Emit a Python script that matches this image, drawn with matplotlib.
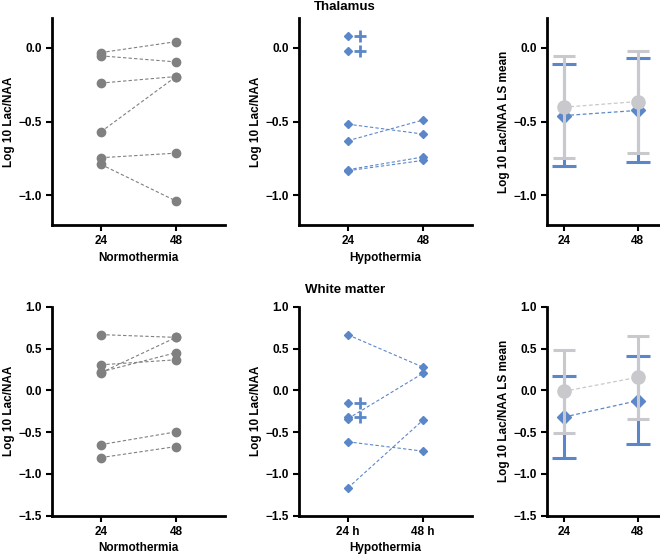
import matplotlib.pyplot as plt

plt.rcParams['font.family'] = ['Liberation Sans', 'DejaVu Sans']
plt.rcParams['font.weight'] = 'bold'
plt.rcParams['axes.labelweight'] = 'bold'

GREY = '#808080'
LIGHT = '#c9c9cd'
BLUE = '#5b87c9'

# time points (categorical positions 0, 1)
times = ['24', '48']
times_h = ['24 h', '48 h']

# Thalamus, normothermia: (24 h, 48 h) per subject
thal_norm_24 = [-0.034, -0.056, -0.24, -0.57, -0.745, -0.79]
thal_norm_48 = [0.04, -0.097, -0.196, -0.196, -0.714, -1.038]

# Thalamus, hypothermia: paired subjects, then subjects only at 24 h (died)
thal_hypo_24 = [-0.518, -0.63, -0.826, -0.833]
thal_hypo_48 = [-0.585, -0.49, -0.74, -0.763]
thal_hypo_died = [0.08, -0.02]

# Thalamus LS means (normothermia grey, hypothermia blue)
thal_norm_mean = [-0.403, -0.365]
thal_norm_lo = [-0.75, -0.71]
thal_norm_hi = [-0.06, -0.02]
thal_hypo_mean = [-0.46, -0.425]
thal_hypo_lo = [-0.80, -0.777]
thal_hypo_hi = [-0.11, -0.072]

# White matter, normothermia
wm_norm_24 = [0.666, 0.305, 0.22, 0.21, -0.65, -0.805]
wm_norm_48 = [0.633, 0.365, 0.45, 0.633, -0.497, -0.673]

# White matter, hypothermia
wm_hypo_24 = [0.664, -0.34, -0.616, -1.168]
wm_hypo_48 = [0.276, 0.204, -0.728, -0.356]
wm_hypo_died = [-0.152, -0.32]

# White matter LS means
wm_norm_mean = [-0.012, 0.156]
wm_norm_lo = [-0.505, -0.34]
wm_norm_hi = [0.48, 0.645]
wm_hypo_mean = [-0.32, -0.124]
wm_hypo_lo = [-0.813, -0.641]
wm_hypo_hi = [0.168, 0.405]

fig = plt.figure(figsize=(6.6, 5.55), dpi=100)


def style(ax, ylim, yticks, xticks, xlim):
    for s in ['top', 'right']:
        ax.spines[s].set_visible(False)
    for s in ['left', 'bottom']:
        ax.spines[s].set_linewidth(2)
    ax.set_ylim(ylim)
    ax.set_yticks(yticks)
    ax.set_yticklabels([f'{v:.1f}'.replace('-', '\u2212') for v in yticks])
    ax.set_xlim(xlim)
    ax.set_xticks([0, 1])
    ax.set_xticklabels(xticks)
    ax.tick_params(width=1.5, length=4, labelsize=8.5)
    ax.set_facecolor('none')


def pairs(ax, a, b, color, marker, ms):
    for y0, y1 in zip(a, b):
        ax.plot([0, 1], [y0, y1], color=color, lw=0.8, ls=(0, (3, 2)),
                marker=marker, ms=ms, mec=color, mfc=color)


def died(ax, vals):
    for v in vals:
        ax.plot(0, v, marker='D', ms=4.5, color=BLUE, ls='none')
        ax.plot(0.16, v, marker='+', ms=8, mew=2, color=BLUE, ls='none')


def means(ax, nm, nlo, nhi, hm, hlo, hhi):
    x = [0, 1]
    ax.plot(x, hm, color=BLUE, lw=0.9, ls=(0, (3, 2)), zorder=2)
    ax.errorbar(x, hm, yerr=[[m - l for m, l in zip(hm, hlo)], [h - m for m, h in zip(hm, hhi)]],
                fmt='D', ms=7.5, color=BLUE, ecolor=BLUE, elinewidth=2.2, capsize=8.5,
                capthick=2.2, zorder=2)
    ax.plot(x, nm, color=LIGHT, lw=0.9, ls=(0, (3, 2)), zorder=3)
    ax.errorbar(x, nm, yerr=[[m - l for m, l in zip(nm, nlo)], [h - m for m, h in zip(nm, nhi)]],
                fmt='o', ms=9.5, color=LIGHT, ecolor=LIGHT, elinewidth=2.2, capsize=8,
                capthick=2.2, zorder=3)


xl = (-0.65, 1.65)
xr = (-0.23, 1.30)
w = 0.262
top_b, top_h = 1 - 225 / 555, 207 / 555
bot_b, bot_h = 1 - 515.7 / 555, 209 / 555
thal_ticks = [-1.0, -0.5, 0.0]
wm_ticks = [-1.5, -1.0, -0.5, 0.0, 0.5, 1.0]
lab = dict(fontsize=8.5)

# Thalamus row
ax = fig.add_axes([52 / 660, top_b, w, top_h])
pairs(ax, thal_norm_24, thal_norm_48, GREY, 'o', 6)
style(ax, (-1.2, 0.2), thal_ticks, times, xl)
ax.set_xlabel('Normothermia', labelpad=3, **lab)
ax.set_ylabel('Log 10 Lac/NAA', labelpad=2, **lab)

ax = fig.add_axes([299 / 660, top_b, w, top_h])
pairs(ax, thal_hypo_24, thal_hypo_48, BLUE, 'D', 4.5)
died(ax, thal_hypo_died)
style(ax, (-1.2, 0.2), thal_ticks, times, xl)
ax.set_xlabel('Hypothermia', labelpad=3, **lab)
ax.set_ylabel('Log 10 Lac/NAA', labelpad=2, **lab)

ax = fig.add_axes([547 / 660, top_b, 113 / 660, top_h])
means(ax, thal_norm_mean, thal_norm_lo, thal_norm_hi,
      thal_hypo_mean, thal_hypo_lo, thal_hypo_hi)
style(ax, (-1.2, 0.2), thal_ticks, times, xr)
ax.set_ylabel('Log 10 Lac/NAA LS mean', labelpad=2, **lab)

# White matter row
ax = fig.add_axes([52 / 660, bot_b, w, bot_h])
pairs(ax, wm_norm_24, wm_norm_48, GREY, 'o', 6)
style(ax, (-1.5, 1.0), wm_ticks, times, xl)
ax.set_xlabel('Normothermia', labelpad=3, **lab)
ax.set_ylabel('Log 10 Lac/NAA', labelpad=2, **lab)

ax = fig.add_axes([299 / 660, bot_b, w, bot_h])
pairs(ax, wm_hypo_24, wm_hypo_48, BLUE, 'D', 4.5)
died(ax, wm_hypo_died)
style(ax, (-1.5, 1.0), wm_ticks, times_h, xl)
ax.set_xlabel('Hypothermia', labelpad=3, **lab)
ax.set_ylabel('Log 10 Lac/NAA', labelpad=2, **lab)

ax = fig.add_axes([547 / 660, bot_b, 113 / 660, bot_h])
means(ax, wm_norm_mean, wm_norm_lo, wm_norm_hi,
      wm_hypo_mean, wm_hypo_lo, wm_hypo_hi)
style(ax, (-1.5, 1.0), wm_ticks, times, xr)
ax.set_ylabel('Log 10 Lac/NAA LS mean', labelpad=2, **lab)

fig.text(345 / 660, 1 - 7 / 555, 'Thalamus', ha='center', va='center',
         fontsize=9.5, fontweight='bold')
fig.text(345 / 660, 1 - 290 / 555, 'White matter', ha='center', va='center',
         fontsize=9.5, fontweight='bold')

fig.savefig('out.png', dpi=100)
